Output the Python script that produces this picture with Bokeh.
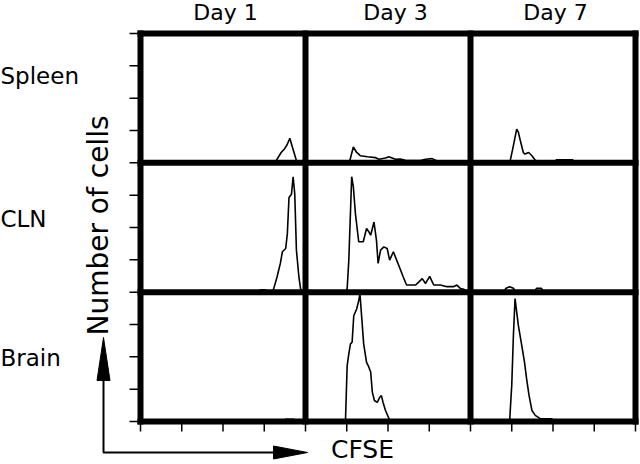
import numpy as np
from bokeh.plotting import figure
from bokeh.models import Range1d
from bokeh.core.properties import value
from bokeh.embed import file_html
from bokeh.resources import INLINE

# ---------------- data ----------------
days = ["Day 1", "Day 3", "Day 7"]
tissues = ["Spleen", "CLN", "Brain"]
x_axis_title = "CFSE"
y_axis_title = "Number of cells"

# each panel: x = CFSE (0-4 within panel), y = number of cells (0-4 within panel)
spleen_d1_x = [3.20, 3.27, 3.41, 3.49, 3.55, 3.62, 3.68, 3.77, 3.81, 3.90]
spleen_d1_y = [0.0, 0.03, 0.32, 0.43, 0.55, 0.76, 0.50, 0.11, 0.0, 0.0]

spleen_d3_x = [1.00, 1.07, 1.16, 1.24, 1.29, 1.33, 1.50, 1.70, 1.78, 1.94, 2.02,
               2.10, 2.18, 2.30, 2.42, 2.79, 2.91, 3.07, 3.15, 3.27]
spleen_d3_y = [0.0, 0.05, 0.49, 0.32, 0.27, 0.22, 0.19, 0.16, 0.11, 0.15, 0.19,
               0.15, 0.11, 0.12, 0.08, 0.07, 0.11, 0.13, 0.08, 0.0]

spleen_d7_x = [0.90, 0.96, 1.03, 1.12, 1.16, 1.20, 1.28, 1.32, 1.41, 1.49, 1.57,
               1.65, 2.05, 2.08, 2.48, 2.52]
spleen_d7_y = [0.0, 0.05, 0.47, 1.04, 0.95, 0.73, 0.32, 0.27, 0.32, 0.22, 0.08,
               0.03, 0.03, 0.09, 0.09, 0.03]

cln_d1_x = [2.85, 2.91, 3.03, 3.08, 3.20, 3.23, 3.31, 3.39, 3.44, 3.52, 3.56,
            3.60, 3.66, 3.70, 3.74, 3.78, 3.84, 3.88, 3.92]
cln_d1_y = [0.0, 0.07, 0.07, 0.0, 0.0, 0.11, 0.47, 0.89, 1.25, 1.35, 1.81,
            2.93, 3.03, 3.57, 3.03, 1.30, 0.47, 0.11, 0.0]

cln_d3_x = [0.98, 1.01, 1.05, 1.12, 1.16, 1.21, 1.29, 1.40, 1.48, 1.54, 1.58,
            1.66, 1.72, 1.76, 1.82, 1.90, 1.98, 2.04, 2.13, 2.21, 2.29, 2.37,
            2.45, 2.67, 2.75, 2.83, 2.91, 3.01, 3.11, 3.27, 3.43, 3.59, 3.67,
            3.76, 3.84, 3.92]
cln_d3_y = [0.0, 0.11, 0.99, 3.57, 3.26, 2.43, 1.56, 1.56, 1.97, 1.86, 1.76,
            2.17, 1.61, 0.89, 1.30, 1.40, 1.35, 0.99, 1.25, 0.99, 0.73, 0.47,
            0.22, 0.22, 0.32, 0.42, 0.27, 0.49, 0.22, 0.22, 0.17, 0.17, 0.22,
            0.11, 0.09, 0.0]

cln_d7_x = [0.80, 0.86, 0.95, 1.04, 1.10, 1.55, 1.60, 1.72, 1.77]
cln_d7_y = [0.0, 0.12, 0.17, 0.12, 0.0, 0.0, 0.12, 0.12, 0.0]

brain_d1_x = [3.45, 3.52, 3.71, 3.78]
brain_d1_y = [0.0, 0.07, 0.07, 0.0]

brain_d3_x = [0.95, 0.97, 1.01, 1.05, 1.09, 1.13, 1.17, 1.24, 1.29, 1.32, 1.36,
              1.41, 1.48, 1.52, 1.58, 1.62, 1.67, 1.74, 1.80, 1.84, 1.88, 1.94,
              2.02, 2.06]
brain_d3_y = [0.0, 0.06, 1.73, 2.09, 2.40, 2.45, 3.27, 3.48, 3.74, 3.95, 3.27,
              2.40, 1.83, 1.73, 1.53, 0.91, 0.65, 0.59, 0.75, 0.80, 0.59, 0.34,
              0.10, 0.0]

brain_d7_x = [0.93, 0.95, 1.00, 1.04, 1.08, 1.12, 1.16, 1.23, 1.31, 1.36, 1.42,
              1.49, 1.57, 1.69, 1.97, 2.04]
brain_d7_y = [0.0, 0.05, 1.12, 2.66, 3.80, 3.38, 2.97, 2.45, 1.83, 1.32, 0.80,
              0.34, 0.19, 0.09, 0.08, 0.0]

panels = {
    ("Spleen", "Day 1"): (spleen_d1_x, spleen_d1_y),
    ("Spleen", "Day 3"): (spleen_d3_x, spleen_d3_y),
    ("Spleen", "Day 7"): (spleen_d7_x, spleen_d7_y),
    ("CLN", "Day 1"): (cln_d1_x, cln_d1_y),
    ("CLN", "Day 3"): (cln_d3_x, cln_d3_y),
    ("CLN", "Day 7"): (cln_d7_x, cln_d7_y),
    ("Brain", "Day 1"): (brain_d1_x, brain_d1_y),
    ("Brain", "Day 3"): (brain_d3_x, brain_d3_y),
    ("Brain", "Day 7"): (brain_d7_x, brain_d7_y),
}

# ---------------- layout ----------------
W, H = 640, 464
PANEL = 4                       # data units per panel
N = 3 * PANEL
GX0, GX1 = 140, 635             # grid left/right in pixels
GY0, GY1 = 33, 421              # grid top/bottom in pixels
SX = (GX1 - GX0) / N            # px per data unit (x)
SY = (GY1 - GY0) / N            # px per data unit (y)
FONT = "DejaVu Sans"


def dx(px):
    return (px - GX0) / SX


def dy(py):
    return (GY1 - py) / SY


p = figure(width=W, height=H,
           x_range=Range1d(dx(0), dx(W)), y_range=Range1d(dy(H), dy(0)),
           output_backend="svg", toolbar_location=None,
           x_axis_type=None, y_axis_type=None,
           min_border=0, title=None)
p.background_fill_color = "white"
p.border_fill_color = "white"
p.outline_line_color = None
p.xgrid.visible = False
p.ygrid.visible = False

# histograms
for (tissue, day), (xs, ys) in panels.items():
    col = days.index(day)
    row = 2 - tissues.index(tissue)
    p.line([x + col * PANEL for x in xs], [y + row * PANEL for y in ys],
           line_color="black", line_width=1.6)

# ticks (one per CFSE / count unit)
ticks = list(range(0, N + 1))
p.segment(x0=ticks, y0=[0] * len(ticks), x1=ticks, y1=[-10 / SY] * len(ticks),
          line_color="black", line_width=1.5)
p.segment(x0=[0] * len(ticks), y0=ticks, x1=[-11 / SX] * len(ticks), y1=ticks,
          line_color="black", line_width=1.5)

# panel borders
borders = list(range(0, N + 1, PANEL))
p.segment(x0=borders, y0=[0] * len(borders), x1=borders, y1=[N] * len(borders),
          line_color="black", line_width=6, line_cap="square")
p.segment(x0=[0] * len(borders), y0=borders, x1=[N] * len(borders), y1=borders,
          line_color="black", line_width=6, line_cap="square")

# column titles
p.text(x=[dx(225), dx(395), dx(555)], y=[dy(19 - 7.5)] * 3, text=days,
       text_font=value(FONT), text_font_size="22px", text_color="black",
       text_align="center", text_baseline="alphabetic")

# row titles
p.text(x=[dx(0)] * 3, y=[dy(83 - 7.8), dy(226 - 7.8), dy(365 - 7.8)], text=tissues,
       text_font=value(FONT), text_font_size="23px", text_color="black",
       text_align="left", text_baseline="alphabetic")

# axis titles
p.text(x=[dx(107 - 9.5)], y=[dy(225)], text=[y_axis_title], angle=np.pi / 2,
       text_font=value(FONT), text_font_size="28px", text_color="black",
       text_align="center", text_baseline="alphabetic")
p.text(x=[dx(362)], y=[dy(457 - 8.5)], text=[x_axis_title],
       text_font=value(FONT), text_font_size="25px", text_color="black",
       text_align="center", text_baseline="alphabetic")

# arrows
AX, AY = 103, 452
p.line(x=[dx(AX), dx(AX), dx(276)], y=[dy(376), dy(AY), dy(AY)],
       line_color="black", line_width=2)
p.patch(x=[dx(AX - 6.5), dx(AX), dx(AX + 6.5)], y=[dy(380), dy(337), dy(380)],
        fill_color="black", line_color="black", line_width=1)
p.patch(x=[dx(273), dx(307), dx(273)], y=[dy(AY - 6.5), dy(AY), dy(AY + 6.5)],
        fill_color="black", line_color="black", line_width=1)

open("out.html", "w").write(file_html(p, INLINE))
